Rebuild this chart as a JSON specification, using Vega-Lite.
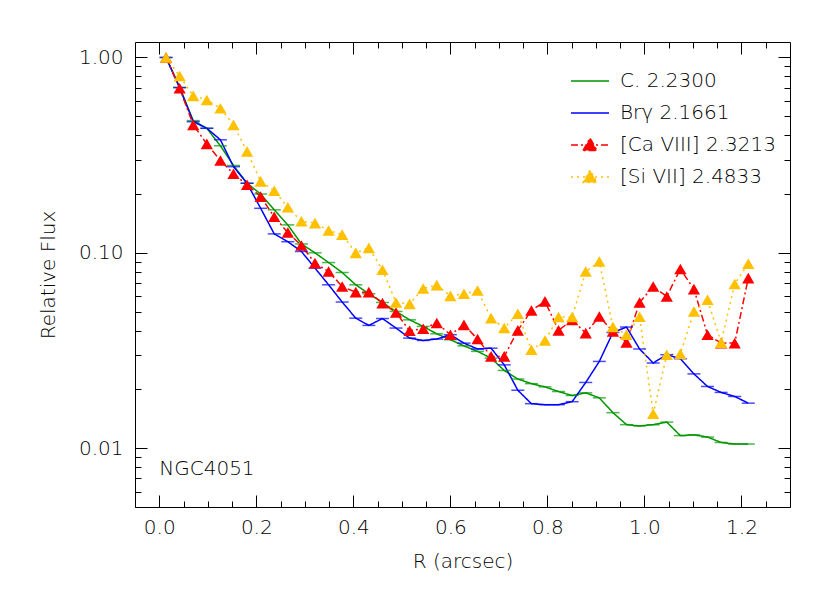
{
  "$schema": "https://vega.github.io/schema/vega-lite/v6.json",
  "width": 655,
  "height": 465,
  "autosize": {"type": "none"},
  "padding": {"left": 135, "top": 42, "right": 40, "bottom": 86},
  "background": "white",
  "config": {
    "view": {"stroke": "#000", "strokeWidth": 1},
    "font": "DejaVu Sans",
    "axis": {"labelFont": "DejaVu Sans", "titleFont": "DejaVu Sans", "labelFontWeight": 200, "labelColor": "#000", "titleColor": "#000", "tickColor": "#000", "tickWidth": 1, "grid": false, "domain": false, "labelFontSize": 20, "titleFontSize": 20, "titleFontWeight": 200}
  },
  "datasets": {
    "flux": [
      {"s":"C. 2.2300","R":0.014,"F":1.0},{"s":"C. 2.2300","R":0.042,"F":0.704},{"s":"C. 2.2300","R":0.070,"F":0.475},{"s":"C. 2.2300","R":0.098,"F":0.434},{"s":"C. 2.2300","R":0.126,"F":0.353},{"s":"C. 2.2300","R":0.153,"F":0.280},{"s":"C. 2.2300","R":0.181,"F":0.227},{"s":"C. 2.2300","R":0.209,"F":0.200},{"s":"C. 2.2300","R":0.237,"F":0.166},{"s":"C. 2.2300","R":0.265,"F":0.139},{"s":"C. 2.2300","R":0.293,"F":0.111},{"s":"C. 2.2300","R":0.321,"F":0.100},{"s":"C. 2.2300","R":0.349,"F":0.0892},{"s":"C. 2.2300","R":0.377,"F":0.0793},{"s":"C. 2.2300","R":0.405,"F":0.0686},{"s":"C. 2.2300","R":0.432,"F":0.0617},{"s":"C. 2.2300","R":0.460,"F":0.0557},{"s":"C. 2.2300","R":0.488,"F":0.0501},{"s":"C. 2.2300","R":0.516,"F":0.0454},{"s":"C. 2.2300","R":0.544,"F":0.0420},{"s":"C. 2.2300","R":0.572,"F":0.0385},{"s":"C. 2.2300","R":0.600,"F":0.0359},{"s":"C. 2.2300","R":0.628,"F":0.0334},{"s":"C. 2.2300","R":0.656,"F":0.0313},{"s":"C. 2.2300","R":0.684,"F":0.0289},{"s":"C. 2.2300","R":0.711,"F":0.0250},{"s":"C. 2.2300","R":0.739,"F":0.0226},{"s":"C. 2.2300","R":0.767,"F":0.0214},{"s":"C. 2.2300","R":0.795,"F":0.0206},{"s":"C. 2.2300","R":0.823,"F":0.0195},{"s":"C. 2.2300","R":0.851,"F":0.0186},{"s":"C. 2.2300","R":0.879,"F":0.0192},{"s":"C. 2.2300","R":0.907,"F":0.0181},{"s":"C. 2.2300","R":0.935,"F":0.0152},{"s":"C. 2.2300","R":0.963,"F":0.0132},{"s":"C. 2.2300","R":0.990,"F":0.0130},{"s":"C. 2.2300","R":1.018,"F":0.0132},{"s":"C. 2.2300","R":1.046,"F":0.0136},{"s":"C. 2.2300","R":1.074,"F":0.0116},{"s":"C. 2.2300","R":1.102,"F":0.0117},{"s":"C. 2.2300","R":1.130,"F":0.0114},{"s":"C. 2.2300","R":1.158,"F":0.0107},{"s":"C. 2.2300","R":1.186,"F":0.0105},{"s":"C. 2.2300","R":1.214,"F":0.0105},
      {"s":"Brγ 2.1661","R":0.014,"F":1.0},{"s":"Brγ 2.1661","R":0.042,"F":0.70},{"s":"Brγ 2.1661","R":0.070,"F":0.469},{"s":"Brγ 2.1661","R":0.098,"F":0.434},{"s":"Brγ 2.1661","R":0.126,"F":0.379},{"s":"Brγ 2.1661","R":0.153,"F":0.276},{"s":"Brγ 2.1661","R":0.181,"F":0.227},{"s":"Brγ 2.1661","R":0.209,"F":0.169},{"s":"Brγ 2.1661","R":0.237,"F":0.125},{"s":"Brγ 2.1661","R":0.265,"F":0.114},{"s":"Brγ 2.1661","R":0.293,"F":0.1016},{"s":"Brγ 2.1661","R":0.321,"F":0.0835},{"s":"Brγ 2.1661","R":0.349,"F":0.0686},{"s":"Brγ 2.1661","R":0.377,"F":0.0560},{"s":"Brγ 2.1661","R":0.405,"F":0.0463},{"s":"Brγ 2.1661","R":0.432,"F":0.0425},{"s":"Brγ 2.1661","R":0.460,"F":0.0461},{"s":"Brγ 2.1661","R":0.488,"F":0.0412},{"s":"Brγ 2.1661","R":0.516,"F":0.0366},{"s":"Brγ 2.1661","R":0.544,"F":0.0356},{"s":"Brγ 2.1661","R":0.572,"F":0.0362},{"s":"Brγ 2.1661","R":0.600,"F":0.0381},{"s":"Brγ 2.1661","R":0.628,"F":0.0345},{"s":"Brγ 2.1661","R":0.656,"F":0.0322},{"s":"Brγ 2.1661","R":0.684,"F":0.0325},{"s":"Brγ 2.1661","R":0.711,"F":0.0267},{"s":"Brγ 2.1661","R":0.739,"F":0.0198},{"s":"Brγ 2.1661","R":0.767,"F":0.0169},{"s":"Brγ 2.1661","R":0.795,"F":0.0167},{"s":"Brγ 2.1661","R":0.823,"F":0.0167},{"s":"Brγ 2.1661","R":0.851,"F":0.0173},{"s":"Brγ 2.1661","R":0.879,"F":0.0217},{"s":"Brγ 2.1661","R":0.907,"F":0.0278},{"s":"Brγ 2.1661","R":0.935,"F":0.0391},{"s":"Brγ 2.1661","R":0.963,"F":0.0417},{"s":"Brγ 2.1661","R":0.990,"F":0.0322},{"s":"Brγ 2.1661","R":1.018,"F":0.0273},{"s":"Brγ 2.1661","R":1.046,"F":0.0301},{"s":"Brγ 2.1661","R":1.074,"F":0.0287},{"s":"Brγ 2.1661","R":1.102,"F":0.0240},{"s":"Brγ 2.1661","R":1.130,"F":0.0207},{"s":"Brγ 2.1661","R":1.158,"F":0.0193},{"s":"Brγ 2.1661","R":1.186,"F":0.0184},{"s":"Brγ 2.1661","R":1.214,"F":0.0170},
      {"s":"[Ca VIII] 2.3213","R":0.014,"F":1.0},{"s":"[Ca VIII] 2.3213","R":0.042,"F":0.696},{"s":"[Ca VIII] 2.3213","R":0.070,"F":0.452},{"s":"[Ca VIII] 2.3213","R":0.098,"F":0.361},{"s":"[Ca VIII] 2.3213","R":0.126,"F":0.297},{"s":"[Ca VIII] 2.3213","R":0.153,"F":0.254},{"s":"[Ca VIII] 2.3213","R":0.181,"F":0.223},{"s":"[Ca VIII] 2.3213","R":0.209,"F":0.194},{"s":"[Ca VIII] 2.3213","R":0.237,"F":0.153},{"s":"[Ca VIII] 2.3213","R":0.265,"F":0.127},{"s":"[Ca VIII] 2.3213","R":0.293,"F":0.109},{"s":"[Ca VIII] 2.3213","R":0.321,"F":0.0886},{"s":"[Ca VIII] 2.3213","R":0.349,"F":0.0802},{"s":"[Ca VIII] 2.3213","R":0.377,"F":0.0672},{"s":"[Ca VIII] 2.3213","R":0.405,"F":0.0629},{"s":"[Ca VIII] 2.3213","R":0.432,"F":0.0629},{"s":"[Ca VIII] 2.3213","R":0.460,"F":0.0553},{"s":"[Ca VIII] 2.3213","R":0.488,"F":0.0495},{"s":"[Ca VIII] 2.3213","R":0.516,"F":0.0399},{"s":"[Ca VIII] 2.3213","R":0.544,"F":0.0409},{"s":"[Ca VIII] 2.3213","R":0.572,"F":0.0437},{"s":"[Ca VIII] 2.3213","R":0.600,"F":0.0381},{"s":"[Ca VIII] 2.3213","R":0.628,"F":0.0428},{"s":"[Ca VIII] 2.3213","R":0.656,"F":0.0362},{"s":"[Ca VIII] 2.3213","R":0.684,"F":0.0295},{"s":"[Ca VIII] 2.3213","R":0.711,"F":0.0295},{"s":"[Ca VIII] 2.3213","R":0.739,"F":0.0401},{"s":"[Ca VIII] 2.3213","R":0.767,"F":0.0507},{"s":"[Ca VIII] 2.3213","R":0.795,"F":0.0564},{"s":"[Ca VIII] 2.3213","R":0.823,"F":0.0401},{"s":"[Ca VIII] 2.3213","R":0.851,"F":0.0454},{"s":"[Ca VIII] 2.3213","R":0.879,"F":0.0388},{"s":"[Ca VIII] 2.3213","R":0.907,"F":0.0472},{"s":"[Ca VIII] 2.3213","R":0.935,"F":0.0396},{"s":"[Ca VIII] 2.3213","R":0.963,"F":0.0348},{"s":"[Ca VIII] 2.3213","R":0.990,"F":0.0557},{"s":"[Ca VIII] 2.3213","R":1.018,"F":0.0672},{"s":"[Ca VIII] 2.3213","R":1.046,"F":0.0598},{"s":"[Ca VIII] 2.3213","R":1.074,"F":0.0826},{"s":"[Ca VIII] 2.3213","R":1.102,"F":0.0652},{"s":"[Ca VIII] 2.3213","R":1.130,"F":0.0381},{"s":"[Ca VIII] 2.3213","R":1.158,"F":0.0345},{"s":"[Ca VIII] 2.3213","R":1.186,"F":0.0345},{"s":"[Ca VIII] 2.3213","R":1.214,"F":0.0742},
      {"s":"[Si VII] 2.4833","R":0.014,"F":1.0},{"s":"[Si VII] 2.4833","R":0.042,"F":0.804},{"s":"[Si VII] 2.4833","R":0.070,"F":0.636},{"s":"[Si VII] 2.4833","R":0.098,"F":0.606},{"s":"[Si VII] 2.4833","R":0.126,"F":0.550},{"s":"[Si VII] 2.4833","R":0.153,"F":0.452},{"s":"[Si VII] 2.4833","R":0.181,"F":0.330},{"s":"[Si VII] 2.4833","R":0.209,"F":0.232},{"s":"[Si VII] 2.4833","R":0.237,"F":0.208},{"s":"[Si VII] 2.4833","R":0.265,"F":0.171},{"s":"[Si VII] 2.4833","R":0.293,"F":0.145},{"s":"[Si VII] 2.4833","R":0.321,"F":0.142},{"s":"[Si VII] 2.4833","R":0.349,"F":0.130},{"s":"[Si VII] 2.4833","R":0.377,"F":0.124},{"s":"[Si VII] 2.4833","R":0.405,"F":0.100},{"s":"[Si VII] 2.4833","R":0.432,"F":0.106},{"s":"[Si VII] 2.4833","R":0.460,"F":0.0819},{"s":"[Si VII] 2.4833","R":0.488,"F":0.0557},{"s":"[Si VII] 2.4833","R":0.516,"F":0.0548},{"s":"[Si VII] 2.4833","R":0.544,"F":0.0657},{"s":"[Si VII] 2.4833","R":0.572,"F":0.0683},{"s":"[Si VII] 2.4833","R":0.600,"F":0.0602},{"s":"[Si VII] 2.4833","R":0.628,"F":0.0617},{"s":"[Si VII] 2.4833","R":0.656,"F":0.0641},{"s":"[Si VII] 2.4833","R":0.684,"F":0.0463},{"s":"[Si VII] 2.4833","R":0.711,"F":0.0412},{"s":"[Si VII] 2.4833","R":0.739,"F":0.0488},{"s":"[Si VII] 2.4833","R":0.767,"F":0.0319},{"s":"[Si VII] 2.4833","R":0.795,"F":0.0356},{"s":"[Si VII] 2.4833","R":0.823,"F":0.0469},{"s":"[Si VII] 2.4833","R":0.851,"F":0.0469},{"s":"[Si VII] 2.4833","R":0.879,"F":0.0802},{"s":"[Si VII] 2.4833","R":0.907,"F":0.0903},{"s":"[Si VII] 2.4833","R":0.935,"F":0.0418},{"s":"[Si VII] 2.4833","R":0.963,"F":0.0381},{"s":"[Si VII] 2.4833","R":0.990,"F":0.0471},{"s":"[Si VII] 2.4833","R":1.018,"F":0.0150},{"s":"[Si VII] 2.4833","R":1.046,"F":0.0301},{"s":"[Si VII] 2.4833","R":1.074,"F":0.0304},{"s":"[Si VII] 2.4833","R":1.102,"F":0.0501},{"s":"[Si VII] 2.4833","R":1.130,"F":0.0575},{"s":"[Si VII] 2.4833","R":1.158,"F":0.0347},{"s":"[Si VII] 2.4833","R":1.186,"F":0.0693},{"s":"[Si VII] 2.4833","R":1.214,"F":0.0879}
    ],
    "note": [{"label":"NGC4051"}]
  },
  "data": {"name": "flux"},
  "layer": [
    {
      "mark": {"type": "line", "strokeWidth": 1.5},
      "encoding": {
        "x": {"field": "R", "type": "quantitative", "scale": {"domain": [-0.05, 1.3], "nice": false, "zero": false},
          "axis": {"orient": "bottom", "title": "R (arcsec)", "values": [0,0.05,0.1,0.15,0.2,0.25,0.3,0.35,0.4,0.45,0.5,0.55,0.6,0.65,0.7,0.75,0.8,0.85,0.9,0.95,1.0,1.05,1.1,1.15,1.2,1.25],
            "tickSize": {"condition": {"test": "abs(datum.value*5 - round(datum.value*5)) < 0.001", "value": -12}, "value": -6},
            "labelExpr": "abs(datum.value*5 - round(datum.value*5)) < 0.001 ? format(datum.value, '.1f') : ''",
            "labelPadding": 22, "titlePadding": 8, "labelFlush": false, "labelOverlap": false}},
        "y": {"field": "F", "type": "quantitative", "scale": {"type": "log", "domain": [0.005, 1.2], "nice": false},
          "axis": {"orient": "left", "title": "Relative Flux", "values": [0.005,0.006,0.007,0.008,0.009,0.01,0.02,0.03,0.04,0.05,0.06,0.07,0.08,0.09,0.1,0.2,0.3,0.4,0.5,0.6,0.7,0.8,0.9,1.0],
            "tickSize": {"condition": {"test": "abs(log(datum.value)/LN10 - round(log(datum.value)/LN10)) < 0.001", "value": -12}, "value": -6},
            "labelExpr": "abs(log(datum.value)/LN10 - round(log(datum.value)/LN10)) < 0.001 ? format(datum.value, '.2f') : ''",
            "labelPadding": 24, "titlePadding": 20, "labelFlush": false, "labelOverlap": false}},
        "color": {"field": "s", "type": "nominal", "scale": {"domain": ["C. 2.2300", "Brγ 2.1661", "[Ca VIII] 2.3213", "[Si VII] 2.4833"], "range": ["#009600", "#0000ff", "#ff0000", "#ffc000"]},
          "legend": {"orient": "none", "legendX": 444, "legendY": 28, "title": null, "padding": 0, "symbolSize": 400, "symbolStrokeWidth": 1.5, "symbolOpacity": 1, "labelFontSize": 20, "labelFont": "DejaVu Sans", "labelFontWeight": 200, "labelColor": "#000", "labelOffset": 19, "rowPadding": 11,
            "encode": {"symbols": {"update": {
              "shape": {"signal": "indexof(['[Ca VIII] 2.3213','[Si VII] 2.4833'], datum.value) >= 0 ? 'M-1.9,0H1.9M-0.7,0.55L0,-0.7L0.7,0.55Z' : 'M-1.9,0H1.9'"},
              "fill": {"scale": "color", "field": "value"},
              "stroke": {"scale": "color", "field": "value"},
              "strokeDash": {"scale": "strokeDash", "field": "value"},
              "strokeWidth": {"value": 1.5},
              "opacity": {"value": 1}}}}}},
        "strokeDash": {"field": "s", "type": "nominal", "scale": {"domain": ["C. 2.2300", "Brγ 2.1661", "[Ca VIII] 2.3213", "[Si VII] 2.4833"], "range": [[1, 0], [1, 0], [7, 3, 2, 3], [2, 4]]}, "legend": null},
        "order": {"field": "R", "type": "quantitative"}
      }
    },
    {
      "transform": [{"filter": "datum.s == 'C. 2.2300' || datum.s == 'Brγ 2.1661'"}],
      "mark": {"type": "tick", "orient": "horizontal", "size": 13, "thickness": 1.5},
      "encoding": {
        "x": {"field": "R", "type": "quantitative",
          "axis": {"orient": "top", "title": null, "labels": false, "values": [0,0.05,0.1,0.15,0.2,0.25,0.3,0.35,0.4,0.45,0.5,0.55,0.6,0.65,0.7,0.75,0.8,0.85,0.9,0.95,1.0,1.05,1.1,1.15,1.2,1.25],
            "tickSize": {"condition": {"test": "abs(datum.value*5 - round(datum.value*5)) < 0.001", "value": -12}, "value": -6}}},
        "y": {"field": "F", "type": "quantitative",
          "axis": {"orient": "right", "title": null, "labels": false, "values": [0.005,0.006,0.007,0.008,0.009,0.01,0.02,0.03,0.04,0.05,0.06,0.07,0.08,0.09,0.1,0.2,0.3,0.4,0.5,0.6,0.7,0.8,0.9,1.0],
            "tickSize": {"condition": {"test": "abs(log(datum.value)/LN10 - round(log(datum.value)/LN10)) < 0.001", "value": -12}, "value": -6}}},
        "color": {"field": "s", "type": "nominal", "legend": null}
      }
    },
    {
      "transform": [{"filter": "datum.s == '[Ca VIII] 2.3213' || datum.s == '[Si VII] 2.4833'"}],
      "mark": {"type": "point", "shape": "triangle-up", "filled": true, "size": 150, "opacity": 1},
      "encoding": {
        "x": {"field": "R", "type": "quantitative", "axis": null},
        "y": {"field": "F", "type": "quantitative", "axis": null},
        "color": {"field": "s", "type": "nominal", "legend": null}
      }
    },
    {
      "data": {"name": "note"},
      "mark": {"type": "text", "align": "left", "baseline": "middle", "fontSize": 20, "font": "DejaVu Sans", "fontWeight": 200, "color": "#000"},
      "encoding": {
        "x": {"datum": 0.0, "type": "quantitative", "axis": null},
        "y": {"datum": 0.0078, "type": "quantitative", "axis": null},
        "text": {"field": "label", "type": "nominal"}
      }
    }
  ],
  "resolve": {"axis": {"x": "independent", "y": "independent"}}
}
